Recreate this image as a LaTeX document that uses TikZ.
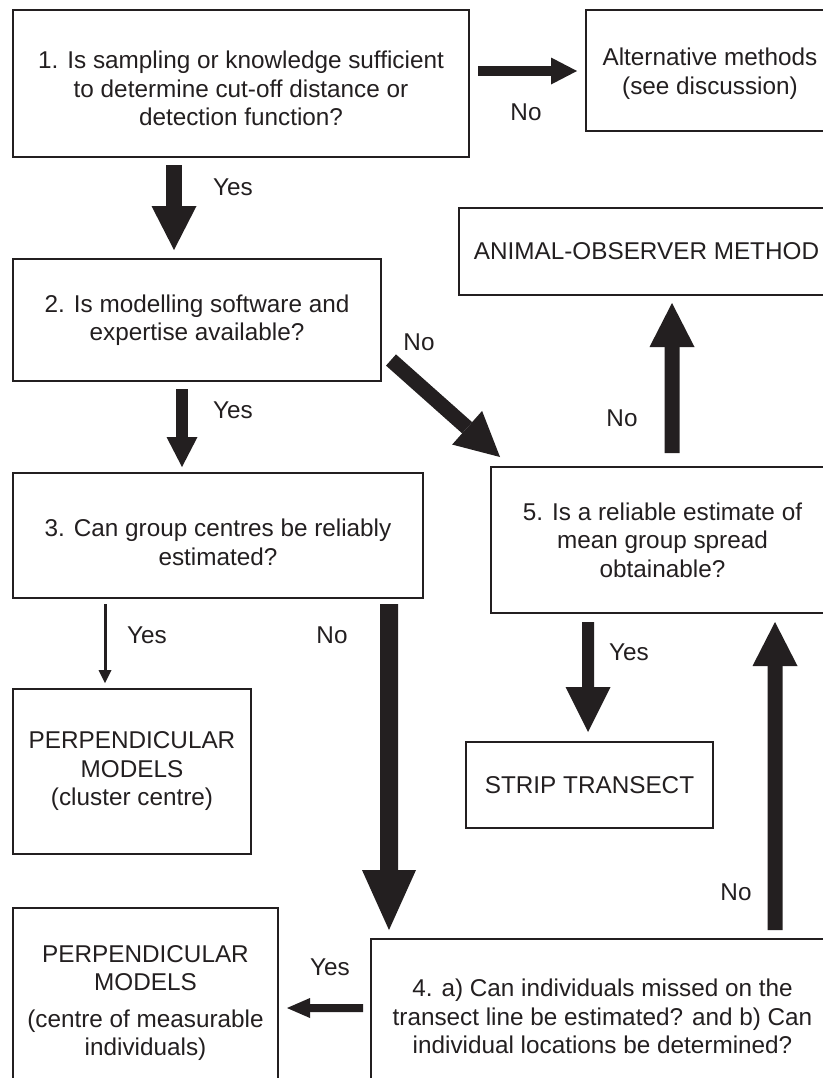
\documentclass[tikz,border=0pt]{standalone}
\usepackage{fontspec}
\setmainfont{Liberation Sans}
\usetikzlibrary{arrows.meta}
\definecolor{ink}{HTML}{231F20}
\begin{document}
\begin{tikzpicture}[x=1bp,y=-1bp,
  box/.style={draw=ink, line width=2bp, anchor=north west, align=center, inner sep=0pt, outer sep=0pt, text=ink, font=\fontsize{24.3bp}{28.5bp}\selectfont},
  lbl/.style={inner sep=0pt, text depth=0pt, text=ink, font=\fontsize{24.3bp}{28.5bp}\selectfont},
  fat/.style args={#1/#2/#3}{draw=ink, line width=#1bp, -{Triangle[width=#2bp, length=#3bp, line width=0pt]}}
]
\path[use as bounding box, fill=white] (0,0) rectangle (823,1078);

% boxes
\node[box, minimum width=456bp, minimum height=147bp] (b1) at (13,10) {\rule{0pt}{28bp}1. Is sampling or knowledge sufficient\\to determine cut-off distance or\\detection function?};
\node[box, minimum width=248bp, minimum height=121bp] (alt) at (586,10) {\rule{0pt}{24bp}Alternative methods\\(see discussion)};
\node[box, minimum width=375bp, minimum height=87bp] (animal) at (459,208) {ANIMAL-OBSERVER METHOD};
\node[box, minimum width=368bp, minimum height=122bp] (b2) at (13,259) {2. Is modelling software and\\expertise available?};
\node[box, minimum width=410bp, minimum height=125bp] (b3) at (13,473) {\rule{0pt}{31bp}3. Can group centres be reliably\\estimated?};
\node[box, minimum width=343bp, minimum height=146bp] (b5) at (491,467) {5. Is a reliable estimate of\\mean group spread\\obtainable?};
\node[box, minimum width=247bp, minimum height=86bp] (strip) at (466,742) {STRIP TRANSECT};
\node[box, minimum width=238bp, minimum height=165bp] (p1) at (13,689) {PERPENDICULAR\\MODELS\\(cluster centre)};
\node[box, minimum width=265bp, minimum height=190bp] (p2) at (13,908) {PERPENDICULAR\\MODELS\\[8bp](centre of measurable\\individuals)};
\node[box, minimum width=463bp, minimum height=155bp] (b4) at (371,939) {4. a) Can individuals missed on the\\transect line be estimated? and b) Can\\individual locations be determined?};

% connectors
\draw[fat={16/45/44}, shorten <=8bp, shorten >=9bp] ([xshift=161bp]b1.south west) -- ([xshift=161bp]b2.north west);
\draw[fat={10/27/26}, shorten <=9bp, shorten >=9bp] ([yshift=-61bp]b1.north east) -- ([yshift=-61bp]alt.north west);
\draw[fat={15/45/44}] ([xshift=10bp,yshift=21bp]b2.south east) -- ([xshift=9bp,yshift=10bp]b5.north west);
\draw[fat={12/31/30}, shorten <=8bp, shorten >=6bp] ([xshift=169bp]b2.south west) -- ([xshift=169bp]b3.north west);
\draw[fat={15/45/44}, shorten <=14bp, shorten >=8bp] ([xshift=181bp]b5.north west) -- ([xshift=213bp]animal.south west);
\draw[fat={3/13/13}, shorten <=6bp, shorten >=6bp] ([xshift=92bp]b3.south west) -- ([xshift=92bp]p1.north west);
\draw[fat={18/54/60}, shorten <=6bp, shorten >=9bp] ([xshift=376bp]b3.south west) -- ([xshift=18bp]b4.north west);
\draw[fat={12/45/45}, shorten <=9bp, shorten >=10bp] ([xshift=97bp]b5.south west) -- ([xshift=122bp]strip.north west);
\draw[fat={15/45/44}, shorten <=9bp, shorten >=9bp] ([xshift=404bp]b4.north west) -- ([xshift=284bp]b5.south west);
\draw[fat={8/20/23}, shorten <=8bp, shorten >=9bp] ([yshift=-69bp]b4.north west) -- ([yshift=-100bp]p2.north east);

% labels
\node[lbl] (y1) at (233,187) {Yes};
\node[lbl] (n1) at (526,112) {No};
\node[lbl] (n2) at (419,342) {No};
\node[lbl] (y2) at (233,410) {Yes};
\node[lbl] (n3) at (622,418) {No};
\node[lbl] (y3) at (147,635) {Yes};
\node[lbl] (n4) at (332,635) {No};
\node[lbl] (y4) at (629,652) {Yes};
\node[lbl] (n5) at (736,892) {No};
\node[lbl] (y5) at (330,967) {Yes};
\end{tikzpicture}
\end{document}
